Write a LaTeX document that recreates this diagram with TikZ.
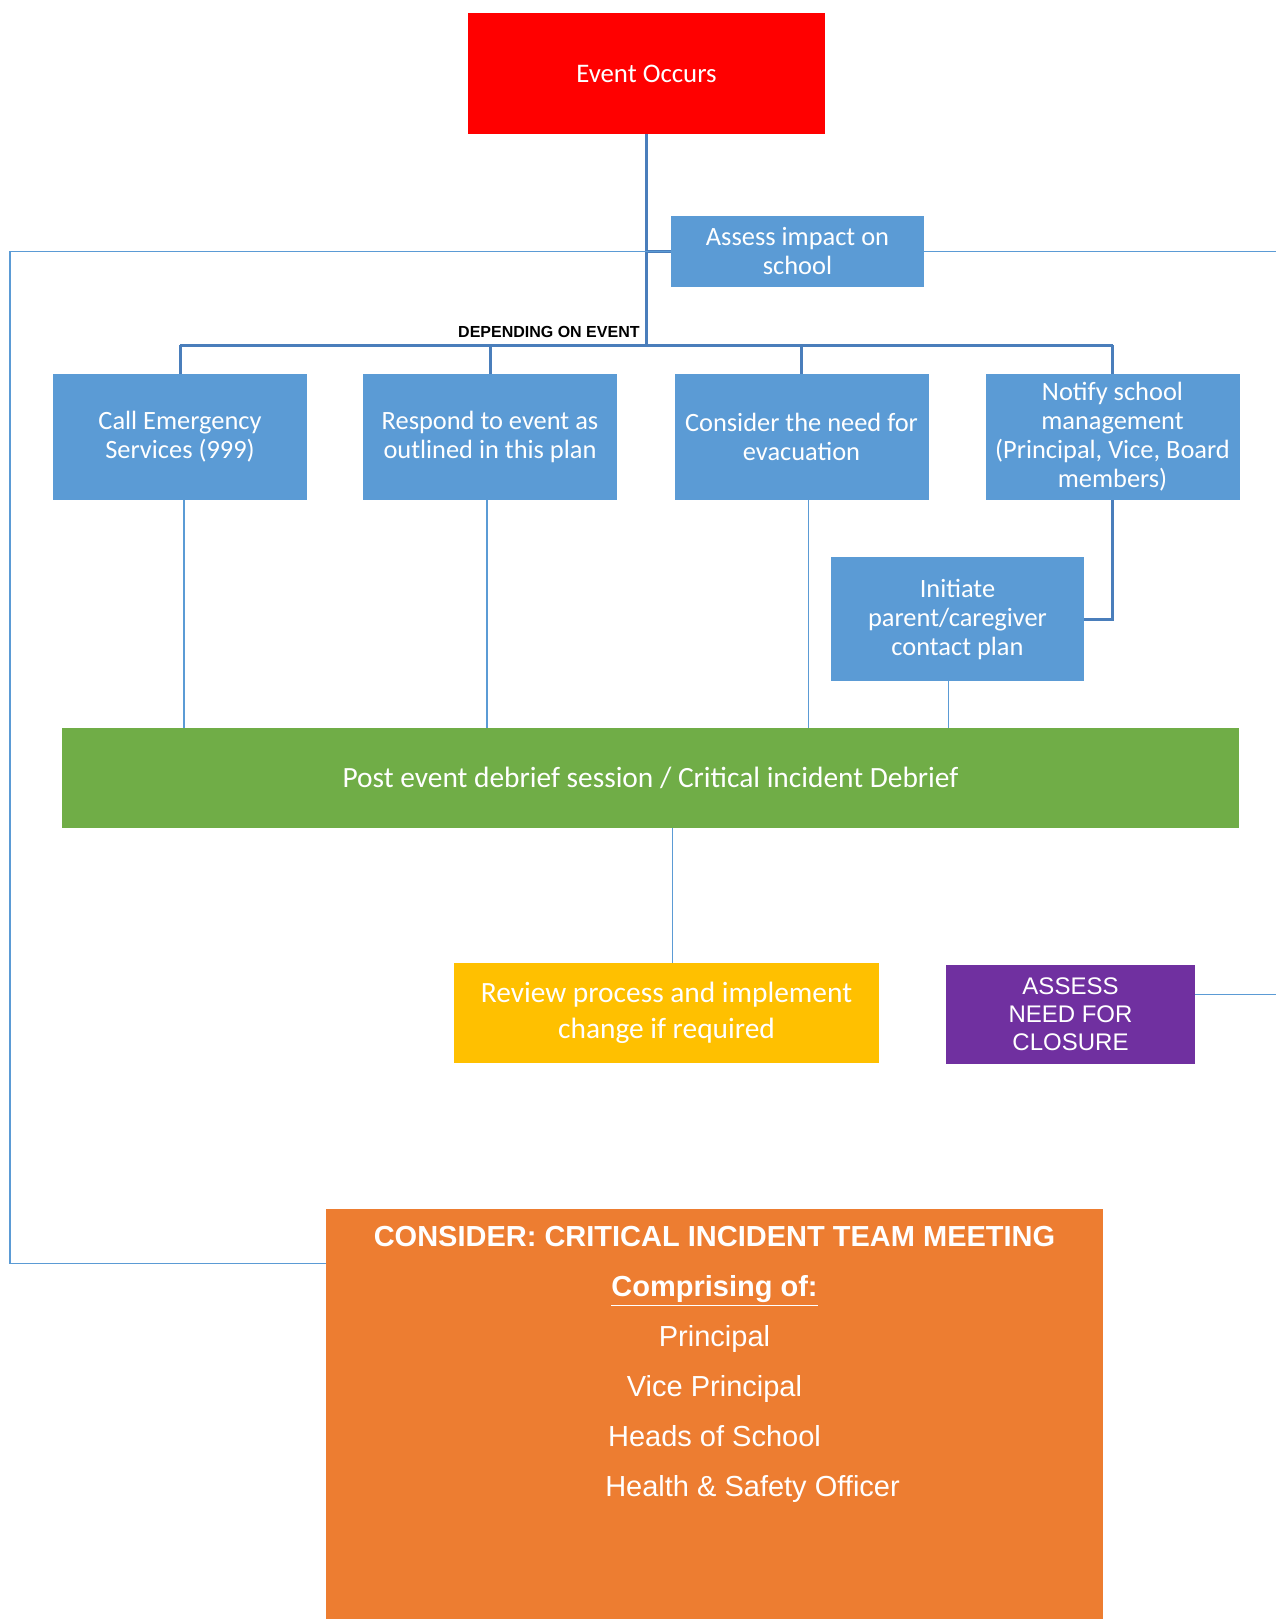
\documentclass[tikz,border=0pt]{standalone}
\usepackage{fontspec}
\setmainfont{Carlito}
\newfontfamily\arialfont{Liberation Sans}
\usepackage{tikz}
\usetikzlibrary{calc}

\definecolor{evred}{HTML}{FF0000}
\definecolor{boxblue}{HTML}{5B9BD5}
\definecolor{linedark}{HTML}{4A7EBB}
\definecolor{debriefgreen}{HTML}{70AD47}
\definecolor{reviewyellow}{HTML}{FFC000}
\definecolor{closurepurple}{HTML}{7030A0}
\definecolor{teamorange}{HTML}{ED7D31}

\begin{document}
\begin{tikzpicture}[x=0.5pt,y=-0.5pt,
    box/.style={rectangle, fill=#1, text=white, align=center, inner sep=0pt,
      font=\fontsize{13.2}{14.5}\selectfont},
    trunk/.style={draw=linedark, line width=1.5pt},
    thin/.style={draw=boxblue, line width=0.75pt}]
  \useasboundingbox (0,0) rectangle (1276,1619);

  %% Top of the chart
  \node[box=evred, minimum width=178.5pt, minimum height=60.5pt, font=\fontsize{13.4}{16}\selectfont] (event) at (646.5,73.5) {Event Occurs};
  \node[box=boxblue, minimum width=126.5pt, minimum height=35.5pt] (assess) at (797.5,251.5) {Assess impact on\\school};
  \node[anchor=east, inner sep=0pt, font=\arialfont\bfseries\fontsize{8}{9.6}\selectfont] (depend) at (640,332) {DEPENDING ON EVENT};

  %% Bus and the four response boxes
  \coordinate (busL) at (180,345);
  \coordinate (busR) at (1112.5,345);
  \draw[trunk] (event.south) -- (event.south |- busL);
  \draw[trunk] (event.south |- assess.west) -- (assess.west);
  \draw[trunk] (busL) -- (busR);
  \foreach \name/\x/\txt in {call/180/{Call Emergency\\Services (999)},
      respond/490/{Respond to event as\\outlined in this plan},
      evac/801.5/{Consider the need for\\evacuation},
      notify/1112.5/{Notify school\\management\\(Principal, Vice, Board\\members)}}
  {
    \node[box=boxblue, minimum width=127pt, minimum height=63pt] (\name) at (\x,437) {\txt};
    \draw[trunk] (\name.north |- busL) -- (\name.north);
  }

  \node[box=boxblue, minimum width=126.5pt, minimum height=62pt] (initiate) at (957.5,619) {Initiate\\parent/caregiver\\contact plan};
  \draw[trunk] (notify.south) |- (initiate.east);

  %% Debrief and what follows
  \node[box=debriefgreen, minimum width=588.5pt, minimum height=50pt, font=\fontsize{14.7}{17}\selectfont] (debrief) at (650.5,778) {Post event debrief session / Critical incident Debrief};
  \foreach \name/\dx in {call/2,respond/-1.5,evac/3.5}
  {
    \draw[thin] ([xshift=\dx pt]\name.south) -- ([xshift=\dx pt]\name.south |- debrief.north);
  }
  \draw[thin] ([xshift=-4.5pt]initiate.south) -- ([xshift=-4.5pt]initiate.south |- debrief.north);

  \node[box=reviewyellow, minimum width=212.5pt, minimum height=50pt, font=\fontsize{14.7}{18}\selectfont] (review) at (666.5,1013) {Review process and implement\\change if required};
  \draw[thin] ([xshift=3pt]debrief.south -| review.north) -- ([xshift=3pt]review.north);

  \node[box=closurepurple, minimum width=124.5pt, minimum height=49.5pt, font=\arialfont\fontsize{12}{14}\selectfont] (closure) at (1070.5,1014.5) {ASSESS\\NEED FOR\\CLOSURE};

  \node[box=teamorange, minimum width=388.5pt, minimum height=210pt] (team) at (714.5,1419) {};
  \node[anchor=north, align=center, inner sep=0pt, text=white, font=\arialfont\fontsize{14.5}{25}\selectfont] (teamtext) at (714.5,1226)
    {\textbf{CONSIDER: CRITICAL INCIDENT TEAM MEETING}\\
     \underline{\textbf{Comprising of:}}\\
     Principal\\
     Vice Principal\\
     Heads of School\\
     \hspace*{38pt}Health \& Safety Officer};

  %% Thin lines running out to the page edges
  \coordinate (farL) at (10,0);
  \coordinate (farR) at (1276,0);
  \coordinate (teamin) at ($(team.north west)+(0,55)$);
  \draw[thin] (assess.west) -- (assess.west -| farL) |- (teamin);
  \draw[thin] (assess.east) -- (assess.east -| farR);
  \coordinate (closeout) at ($(closure.east)+(0,-20)$);
  \draw[thin] (closeout) -- (closeout -| farR);
\end{tikzpicture}
\end{document}
